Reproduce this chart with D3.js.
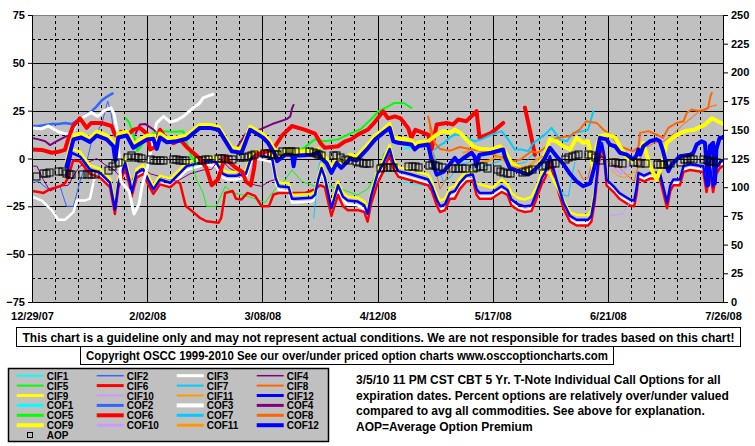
<!DOCTYPE html>
<html><head><meta charset="utf-8">
<script src="https://cdn.jsdelivr.net/npm/d3@7"></script>
<style>
body{margin:0;background:#fff;}
svg text{font-family:"Liberation Sans",Arial,sans-serif;font-weight:bold;font-size:11px;fill:#000;}
</style></head>
<body><svg id="c" width="755" height="446"></svg>
<script>
// ---------- data (day offset from 12/29/07, value) ----------
const xTickLabels = ["12/29/07","2/02/08","3/08/08","4/12/08","5/17/08","6/21/08","7/26/08"];
const leftTicks = [-75,-50,-25,0,25,50,75];
const rightTicks = [0,25,50,75,100,125,150,175,200,225,250];
const seriesNames = ["CIF1","CIF2","CIF3","CIF4","CIF5","CIF6","CIF7","CIF8","CIF9","CIF10","CIF11","CIF12",
                     "COF1","COF2","COF3","COF4","COF5","COF6","COF7","COF8","COF9","COF10","COF11","COF12"];
const seriesColors = ["#00FFFF","#3366FF","#FFFFFF","#800080","#00FF00","#FF0000","#00CCFF","#FF6600","#FFFF00","#CC99FF","#FF9900","#0000FF",
                      "#00FFFF","#3366FF","#FFFFFF","#800080","#00FF00","#FF0000","#00CCFF","#FF6600","#FFFF00","#CC99FF","#FF9900","#0000FF"];
const seriesWidths = [1,1,2.5,1,1,2.5,1,1,2.5,1,1,2.5, 2,2.5,3,2,2,4,2,2,4,2,2,4];
const legendWidths = [2,1.5,3,1.5,2,3,2,2,3,2,2,3, 3,3,4,3,3,4,3,3,4,3,3,4];

const CIF1 = [[112,-12],[115,-13],[118,-14],[121,-13.5],[122,-10]];
const CIF2 = [[0,-12.6],[2,-12],[5.5,-17],[7,-15],[8.5,-14.5],[10.5,-25],[12.6,-25],[14.6,-11.8],[16.6,-2],[18,8],[20,14],[21.5,20],[23,30],[24,24],[25,12]];
const CIF3 = [[0,-20],[3,-22],[6,-27],[8,-32],[10,-32],[12.6,-28],[13.6,-22],[16,-22],[17.6,-21],[19,-10],[20.7,-9.5],[23.7,-14.5],[25.2,-28.5],[26.3,-14.5],[28.3,-4],[29.8,-14.5],[30.3,-20],[31.8,-9.5],[33.8,-7.5],[35.3,-13],[36.9,-18],[38.9,-13],[42,-14.5],[45,-9.5],[47,-6],[51,-4],[53,-3],[56,-4],[58,-10],[59.5,-11],[62,-11],[65,-10],[66.5,-2],[68,0],[71,-1],[73,-2],[74,-12],[75,-16.5],[78,-17],[79,-23],[80,-23],[85,-22.5],[86,-21],[87,-13],[88,-7],[89,-12],[91,-28],[93,-16],[94.5,-22],[96,-24],[99,-24.5],[101,-26.5],[102,-31],[103,-22],[105,-10],[106.7,-5],[108.7,3],[109.8,-4],[111.3,-8.6],[115.3,-10.4],[120.4,-13],[121.5,-16.5],[123,-23.4],[124,-27],[125.5,-26],[127,-20],[128.5,-19],[130,-14.7],[132,-11],[134,-10.4],[135.1,-18],[136,-20],[139.6,-20],[142.7,-16.5],[144.5,-18.5],[145.7,-23.4],[147.8,-26],[149.8,-27],[151.8,-26.5],[153.3,-20],[155,-12],[156,-9],[157.4,-0.8],[159.4,-13],[161.5,-25],[163.5,-32],[165.5,-34],[169,-34],[170,-32],[171,-21.7],[172.2,-2],[173.2,6],[174,-1],[174.6,-13],[177,-17],[178.5,-20],[181.7,-23.4],[183,-24],[183.7,-18],[184.3,-9.5],[186,-11],[187.8,-9.5],[190.8,-9.5],[191.8,-16.5],[193,-25],[194,-16],[194.9,-13],[196.9,-13],[198,-6],[200,-5],[202,-5.5],[204,-6],[205,-16.5],[206,-6],[207,-16.5],[208,-7],[209,-4],[210,-3]];
const CIF4 = [[0,-4],[1.5,-4],[3.4,-11],[5.5,-17],[8.5,-14.5],[11,-14],[13,-8],[14.6,-4],[17,-2],[19.7,0],[22,-3],[25,-6],[27,-10],[30,-12],[33,-5],[36,-8],[40,-10],[44,-12],[48,-8],[52,-6],[54.6,-5.7],[57,0],[60,-5],[63,-8],[65.8,-12.7],[68,-14],[69.8,-14.5],[72,-12],[74,-11]];
const CIF5 = [[46,13],[47,8],[48,3],[49,-5],[50,-11],[52,-18],[53,-25],[56,-25],[58.7,-14.5],[61,-18],[64,-19],[67.8,-21],[70.8,-23],[73.9,-16],[77,-11],[79,-6],[82,-12],[86,-14.5],[90,-14.5],[94,-16],[97.2,-18],[99,-19],[102,-16],[104,-10],[106,-4],[107,3]];
const CIF6 = [[0,-17],[2,-17.5],[3.5,-18],[5.5,-16],[8.5,-14.5],[10,-13],[11,-10],[12.5,-1],[14.6,-1.5],[17.6,-8],[20.7,-10],[23.7,-15],[25.2,-29],[26.3,-15],[28.3,-5],[29.8,-15],[30.3,-20],[31.8,-10],[33.8,-8],[35.3,-13.5],[36.9,-18.5],[38.9,-13.5],[42,-15],[44,-12],[45,-13],[46.7,-24.8],[49,-28],[51,-31],[53,-32.8],[56.7,-33.6],[57.5,-31],[58.7,-18],[61,-17],[62,-21],[63.7,-21.4],[65.5,-18],[67.8,-19.5],[69.8,-25],[72,-25],[73.4,-18.8],[75,-18],[78,-18],[80,-18],[83,-18],[86,-16.2],[87.5,-14],[89,-15],[91,-30],[93,-19],[94.5,-25],[96,-27],[99,-27],[101,-28],[102,-33],[103,-24],[105,-13],[106.7,-7],[108.7,2],[109.8,-5],[111.3,-9.5],[115.3,-11.5],[120.4,-14],[121.5,-17],[123,-24.5],[124,-28],[125.5,-27],[127,-21],[128.5,-21],[130,-16],[132,-12],[134,-11.5],[135.1,-19],[136,-21],[139.6,-21],[142.7,-17.5],[144.5,-19],[145.7,-24.5],[147.8,-27],[149.8,-28],[151.8,-27.5],[153.3,-21],[155,-13],[156,-10],[157.4,-2],[159.4,-14],[161.5,-26],[163.5,-33],[165.5,-35],[169,-35],[170,-33],[171,-23],[172.2,-3],[173.2,5],[174,-2],[174.6,-14],[177,-18],[178.5,-21],[181.7,-24.5],[183,-25],[183.7,-19],[184.3,-10.5],[186,-12],[187.8,-10.5],[190.8,-10.5],[191.8,-17.5],[193,-26],[194,-17],[194.9,-14],[196.9,-14],[198,-7],[200,-6],[202,-6.5],[204,-7],[205,-17.5],[206,-7],[207,-17.5],[208,-8],[209,-5],[210,-4]];
const CIF7 = [[85.6,-31],[86.2,-22],[86.8,-12],[87.3,-3],[88,0],[89,-2],[89.5,null],[122,3],[123.5,-5],[125,-12],[127,-10],[130,-3],[133,-2],[135,-6],[138,-4],[141,-2],[144,0],[147,-3],[150,-2],[152,2],[155,-3],[157.4,-7.5],[159.5,-12],[161.5,-19],[163,-19.7],[164,-10],[165,-2]];
const CIF8 = [[120.6,21],[121.5,6],[123,-8],[124,-16],[125.5,-12],[127,-6],[129,-3],[130,null],[166,-6],[167.5,-11],[169,-10],[170,-3],[172,5],[175,-2],[178,-4],[181,-9],[183,-12],[184.5,-2],[186,5],[189,8],[192,9],[195,13],[198,18],[201,22],[203,25],[206,27],[208,28]];
const CIF9 = [[10.5,-7],[12,5],[14.6,3.5],[17.6,-3.5],[20.7,-5.5],[23.7,-10.5],[25.2,-24],[26.3,-10.5],[28.3,0],[29.8,-10],[30.3,-15.5],[31.8,-5.5],[33.8,-3.5],[35.3,-9],[36.9,-14],[38.9,-9],[42,-10.5],[45,-5.5],[47,-2],[51,0],[53,1],[56,0],[58,-6],[59.5,-7],[62,-7],[65,-6],[66.5,2],[68,4],[71,3],[73,2],[74,-8],[75,-12.5],[78,-13],[79,-19],[80,-19],[85,-18.5],[86,-17],[87,-9],[88,-3],[89,-8],[91,-24],[93,-12],[94.5,-18],[96,-20],[99,-20.5],[101,-22.5],[102,-27],[103,-18],[105,-6],[106.7,-1],[108.7,7],[109.8,0],[111.3,-4.5],[115.3,-6],[120.4,-8.5],[121.5,-12],[123,-19],[124,-22],[125.5,-21],[127,-15.5],[128.5,-14.5],[130,-10.5],[132,-7],[134,-6.5],[134.6,-12.7],[137,-14],[140,-15.3],[142.7,-11],[144.7,-14],[145.7,-18],[147.8,-20.6],[149.8,-21.4],[151.8,-20],[153.3,-15],[155,-7],[157.4,-7.5],[160.4,-18],[162.5,-25],[163.5,-28],[165.5,-29.5],[169,-29.5],[170,-27],[171,-17]];
const CIF10 = [[175.5,-30],[177,-29.5],[179.5,-29],[181,-25],[181.7,-23]];
const CIF11 = [[176,-6],[178,-9],[180,-10],[182,-8],[184,-6]];
const CIF12 = [[10.5,-9],[12,3],[14.6,1],[17.6,-5.7],[20.7,-7.5],[23.7,-12.6],[25.2,-26.7],[26.3,-12.6],[28.3,-2.3],[29.8,-12.6],[30.3,-17.9],[31.8,-7.5],[33.8,-5.7],[35.3,-11],[36.9,-16.2],[38.9,-11],[42,-12.7],[45,-7.5],[47,-4],[51,-2.3],[53,-1],[56,-2],[58,-8],[59.5,-9],[62,-9],[65,-8],[66.5,0],[68,2],[71,1],[73,0],[74,-10],[75,-14.5],[78,-15],[79,-21],[80,-21],[85,-20.5],[86,-19],[87,-11],[88,-5],[89,-10],[91,-26],[93,-14],[94.5,-20],[96,-22],[99,-22.5],[101,-24.5],[102,-29],[103,-20],[105,-8],[106.7,-3],[108.7,5],[109.8,-2],[111.3,-6.6],[115.3,-8.4],[120.4,-11],[121.5,-14.5],[123,-21.4],[124,-25],[125.5,-24],[127,-18],[128.5,-17],[130,-12.7],[132,-9],[134,-8.4],[135.1,-16],[136,-18],[139.6,-18],[142.7,-14.5],[144.5,-16.5],[145.7,-21.4],[147.8,-24],[149.8,-25],[151.8,-24.5],[153.3,-18],[155,-10],[156,-7],[157.4,1.2],[159.4,-11],[161.5,-23],[163.5,-30],[165.5,-32],[169,-32],[170,-30],[171,-19.7],[172.2,0],[173.2,8],[174,1],[174.6,-11],[177,-15],[178.5,-18],[181.7,-21.4],[183,-22],[183.7,-16],[184.3,-7.5],[186,-9],[187.8,-7.5],[190.8,-7.5],[191.8,-14.5],[193,-23],[194,-14],[194.9,-11],[196.9,-11],[198,-4],[200,-3],[202,-3.5],[204,-4],[205,-14.5],[206,-4],[207,-14.5],[208,-5],[209,-2],[210,-1]];

const COF1 = [[113,5],[115,6],[118,6.5],[120.5,6],[121.5,2]];
const COF2 = [[0,17],[2,17],[4,17.5],[6,18],[8,18],[10,18.5],[12,18],[13.5,19.5],[15,21],[16.5,23],[18,24.5],[19.5,27],[21,30],[22.5,32],[24.5,34]];
const COF3 = [[0,16],[3,15.6],[5,17],[8,14],[10,13],[12,12.5],[14,20],[16,22],[18,24],[20,22],[22,25],[24,26.5],[25,23],[25.8,15],[26.5,0],[27,-12],[28,-14],[29.5,-17],[31,-29],[32.5,-24],[33.5,-14],[35,-5],[36,3],[37.9,18.6],[40,22],[42,19],[44,20],[46,22],[49,26.5],[51,29],[52,31.7],[54,33],[55,33.5]];
const COF4 = [[0,10.7],[2,10],[4,9],[5.5,7],[7,8.5],[8.6,10],[10.5,11.7],[11.5,12],[12,null],[31.5,13],[32.8,17.8],[34.5,18],[37,15],[38,13],[39,null],[62,5],[63.5,9],[65,13],[69,15],[73,18],[77.4,20.6],[78.5,22],[79,26],[79.5,28]];
const COF5 = [[28.5,21],[29.5,19],[30.5,14],[31.3,10],[32,4],[33,6],[35,11.7],[37,13.4],[40,14.3],[43,14],[46,14.3],[47,8.2],[48.5,1.2],[50,-3],[51,null],[79,1],[81,4],[83,6],[86,10],[89,9],[93,10],[96,12.5],[100,15.5],[103,20.4],[105.3,24.7],[108,27],[110,29],[113,29],[115.3,26.5]];
const COF6 = [[0,4.7],[3,4.5],[6,3],[8,3.5],[10,4.5],[11,10],[12.5,17],[14.6,21],[16.6,16],[18,18.6],[21,18.6],[24.2,17],[25.2,12.5],[26.2,11],[27,14],[28.8,12],[30.8,15],[32.8,16],[34.9,13],[35.9,4.7],[37.5,6],[38.9,15],[40.9,10],[43,8],[45,10],[47,6],[49,3],[51,0],[53,-5],[54.6,-14],[56.5,-11],[58.7,1],[60,-2],[62,-5],[64,-7],[65,-12],[66.5,-14],[67.5,-5],[68,2],[70,3],[72,4],[73.9,6.4],[76,12],[79,17],[83,15],[86,13],[87.6,8.2],[89,5.6],[93,6.4],[95,8.8],[97,10],[99,12.5],[102,15],[104,18.6],[106.7,24.7],[108.2,21],[110.3,22],[112,21],[114.3,16],[115.3,10.8],[116.5,15],[120.4,12.5],[121.5,5],[123,17.8],[126,18.6],[128,17.8],[129.5,20.4],[132,19.5],[135.1,24.7],[136,10.8],[139.6,13.4],[143.2,18.6],[144,null],[149.8,26.6],[150.8,18.8],[151.9,10],[152.8,2]];
const COF7 = [[122.4,4.7],[124,7],[125.3,8.2],[127,11],[128.5,12.5],[131,12],[132.5,10.5],[134.6,9],[136.6,10],[139.6,12.5],[142.7,14.3],[144.7,10],[146.7,4.7],[148.8,4.7],[150.8,3.8],[152.3,8],[155.9,12.5],[157.9,16],[160.4,10],[162.5,9],[164.5,13.4],[167.5,14.3],[169,15],[170.6,24.7]];
const COF8 = [[120.4,22],[121.5,14],[122.4,8],[124,5],[127,4],[130,6],[133,5],[136,4],[139,3],[141.5,1],[143.7,0.3],[145.7,-1.5],[148.5,-0.5],[151.8,3.8],[153.8,3],[155.9,5.6],[158,10],[160.4,11],[163.5,11.7],[166.5,15.2],[168.5,19.5],[171.6,18.6],[173.6,15.2],[175.6,12.5],[177.7,8.2],[179.7,5.6],[182.7,3.8],[184.3,6],[184.8,13.4],[187.3,14.3],[190.4,12],[191.8,10.8],[193.4,16],[195.9,18.6],[198,19.5],[199,23.9],[200.5,25.6],[202,25],[204,25],[205.5,26.5],[206.2,32.6],[206.6,34.3]];
const COF9 = [[10.5,-2],[12.6,12],[15,13],[17.6,10.5],[19.7,14],[22.7,12],[24.7,8.5],[25.3,1],[26.2,13],[28.8,14],[30.8,7.5],[33,10],[35,12],[36.9,12],[37.9,7],[38.9,13],[41,10.5],[44,11],[47,12],[51,17.5],[54,17.5],[56.7,16.5],[58.2,12.5],[60.7,5.5],[63.7,5],[66.3,16.5],[68.3,14.5],[70.3,12.5],[71.8,10],[73.9,4],[74.5,0.5],[77,4],[79,4],[79.5,-2],[80,3.5],[85,4],[87,5],[88,2],[89.5,0],[91,-5.5],[92.6,0],[94,-3],[96.7,2],[98.7,1],[100,3.5],[102.2,7.5],[104.3,12],[106.7,15],[108.7,18],[109.8,11],[111.3,10.5],[115.3,9.5],[116.3,7],[117.5,8.5],[120.4,9],[123,12.5],[125,14.3],[127,13.5],[128.5,15],[130,13.5],[132,10],[134,6.4],[136,5],[139.6,4.7],[142.2,6.4],[143.7,4],[145.7,-2.3],[147.8,-4.5],[150.8,-6.6],[153.8,-3.5],[155.8,2],[157.4,10],[159.4,9],[161.5,6.4],[163.5,4.7],[165.5,10.8],[167.5,8.2],[169,9],[170,1],[170.6,-7.5],[171.5,6],[172.6,11.7],[174.6,12.5],[177.2,11],[178.7,6.4],[180.7,0.5],[182.7,-1.4],[184.3,2],[185.8,8.2],[187.8,-4],[189.8,-11],[191.3,-4],[192.9,8.2],[195.4,11.7],[198.5,14.3],[201.5,15.2],[204.6,17.8],[206.6,21],[208.6,19.3],[210,18]];
const COF10 = [[176,-3],[177.5,-6],[179,-8],[180.5,-5],[182,-3]];
const COF11 = [[131,3],[133,4],[134.5,0],[136,-2],[139,-1],[141.5,1],[143.5,-1],[145.5,-4],[148,-5],[151,-4],[153,-1],[155,1]];
const COF12 = [[10.5,-4],[12.6,10],[15,11],[17.6,8.7],[19.7,12],[22.7,10],[24.7,6.5],[25.3,-1],[26.2,11],[28.8,12],[30.8,5.6],[33,8],[35,10],[36.9,10.3],[37.9,5],[38.9,11],[41,8.5],[44,9],[47,10.3],[51,16],[54,16],[56.7,15],[58.2,10.8],[60.7,3.8],[63.7,3],[66.3,15],[68.3,13],[70.3,10.8],[71.8,8],[73.9,2],[74.5,-1.4],[77,2],[79,2],[79.5,-4],[80,1.5],[85,2],[87,3],[88,0],[89.5,-2.3],[91,-7.5],[92.6,-2.3],[94,-4.9],[96.7,0],[98.7,-1],[100,1.5],[102.2,5.6],[104.3,10],[106.7,13.4],[108.7,16],[109.8,9],[111.3,8.2],[115.3,7.3],[116.3,4.7],[117.5,6.5],[120.4,7.3],[121.4,-0.5],[123,-8.4],[125,-7],[127,-3],[128.5,0.3],[129.5,-2],[131,0],[133.6,3],[134.5,1],[135,-4],[136,2],[139.6,3],[143.2,4.7],[143.7,1],[145.2,-5],[147.8,-6.6],[150.8,-8.4],[152.3,-6.6],[154.8,-2.3],[155.8,0],[156.9,3.8],[157.4,5.6],[159.4,1.2],[161.5,-3],[163.5,-8],[165.5,-12],[167.5,-14.5],[169.6,-13],[171,-4],[172.6,10.8],[174.6,10],[175.6,7.3],[177.2,6.4],[178.7,3],[180.7,2],[182.7,-0.5],[183.7,1.5],[184.3,4.7],[184.8,2],[185.8,6.4],[187.8,9],[189.8,10],[190.8,9],[191.8,3.8],[192.9,-4],[193.4,-6.6],[194.4,-3],[195.4,-1.4],[196.9,1.2],[200,2],[201,3],[202,7.3],[203.5,9],[204.5,8.2],[205,-2.3],[205.5,-14],[206,6.4],[207,8.2],[207.5,-13],[208,5],[209,10.8],[210,10.8]];

const AOP = [[1.1,110],[3.4,112],[4.3,112.5],[5.2,113.3],[8,114],[9,114],[10.3,112],[11.2,111.5],[12,111.3],[15.3,111.5],[16.6,111.5],[17.8,111.5],[19.1,111.5],[23.2,115],[24.2,118.7],[25.2,121],[26,122],[29,126.6],[30,128],[31.2,126.6],[32.1,126],[33,125.2],[36,124.6],[36.8,124],[37.8,124],[38.8,124],[39.8,124],[42.8,124.6],[43.8,124.6],[44.8,123.7],[45.6,123.7],[46.4,123.7],[50.6,123.7],[51.6,123.7],[52.6,124.5],[53.6,124.8],[56.5,125.7],[57.5,125.7],[58.5,125.3],[59.6,125],[60.8,124.6],[63.3,126],[64.3,126.6],[65.5,127.4],[66.5,128],[67.5,129],[70.5,129.5],[71.5,129.5],[72.5,129],[73.5,129],[74.5,129],[76.1,131.5],[77.1,131.5],[78.1,131.7],[78.8,131.7],[79.8,131.7],[84.2,131.5],[85.4,130.5],[86.2,129.5],[86.9,128.6],[87.9,127.8],[91.5,127.8],[92.5,127.8],[93.5,126],[95,124.3],[96,124],[98.5,123],[99.5,121.8],[100.5,121],[101.5,121],[102.5,121],[105.8,116.4],[106.8,117.5],[107.8,118],[108.8,118],[109.8,118],[114.4,118.7],[115.4,118.7],[116.4,118.7],[117.4,118],[120.5,119.3],[121.5,119.8],[122.5,119.3],[123.5,118.7],[124.5,118],[127.6,117],[128.6,116.4],[129.6,116.4],[130.6,116.4],[131.6,116.4],[134,117],[135,118],[136,118.5],[137,118.7],[138.2,117],[141.2,115.9],[142.2,114.4],[143.2,113.5],[144.3,112.6],[145.3,112.6],[148.8,113.5],[149.8,114.4],[150.8,115],[151.9,115.9],[155,118.7],[156,119.3],[157,120.2],[158,120.8],[159,121.3],[162,124.3],[163,126],[164,127],[165,128],[166,129],[169,129],[170,127.8],[171,126.6],[172.6,123.7],[176.2,122.2],[177.2,121.6],[178.2,121.3],[179.2,120.8],[182.8,121.6],[183.8,121.6],[184.8,121.3],[186.3,120.8],[189.9,120.2],[190.9,120.2],[191.9,120.2],[192.9,120.2],[193.9,120.8],[197,122.2],[198,124.3],[199,124.6],[200,125.2],[201,124.6],[204,124.6],[205,123.7],[206,123.1],[207,122.8],[208,122.2]];

const disclaimer = "This chart is a guideline only and may not represent actual conditions. We are not responsible for trades based on this chart!";
const copyright = "Copyright OSCC 1999-2010 See our over/under priced option charts www.osccoptioncharts.com";
const noteLines = ["3/5/10 11 PM CST CBT 5 Yr. T-Note Individual Call Options for all",
                   "expiration dates. Percent options are relatively over/under valued",
                   "compared to avg all commodities. See above for explanation.",
                   "AOP=Average Option Premium"];

const seriesData = [CIF1,CIF2,CIF3,CIF4,CIF5,CIF6,CIF7,CIF8,CIF9,CIF10,CIF11,CIF12,
                    COF1,COF2,COF3,COF4,COF5,COF6,COF7,COF8,COF9,COF10,COF11,COF12];

// ---------- drawing ----------
const svg = d3.select("#c");
const base = new Date(2007,11,29);
const toDate = d => new Date(base.getTime() + d*86400000);
const L = 32, R = 723, T = 15, B = 302;
const x = d3.scaleTime().domain([base, new Date(2008,6,26)]).range([L,R]);
const yL = d3.scaleLinear().domain([-75,75]).range([B,T]);
const yR = d3.scaleLinear().domain([0,250]).range([B,T]);

svg.append("rect").attr("width",755).attr("height",446).attr("fill","#fff");
svg.append("rect").attr("x",L).attr("y",T).attr("width",R-L).attr("height",B-T).attr("fill","#C0C0C0");

// grid
const hVals = d3.range(-62.5, 75, 12.5);
svg.append("g").selectAll("line").data(hVals).join("line")
  .attr("x1",L).attr("x2",R).attr("y1",d=>Math.round(yL(d))+0.5).attr("y2",d=>Math.round(yL(d))+0.5)
  .attr("stroke","#000").attr("stroke-width",1)
  .attr("stroke-dasharray",d=> (Math.abs(d)%25===0)?null:"3,3");
const vDays = d3.range(7, 210, 7);
svg.append("g").selectAll("line").data(vDays).join("line")
  .attr("y1",T).attr("y2",B).attr("x1",d=>Math.round(x(toDate(d)))+0.5).attr("x2",d=>Math.round(x(toDate(d)))+0.5)
  .attr("stroke","#000").attr("stroke-width",1)
  .attr("stroke-dasharray",d=> (d%35===0)?null:"3,3");
svg.append("line").attr("x1",L).attr("x2",R).attr("y1",T+0.5).attr("y2",T+0.5).attr("stroke","#808080");

// series
svg.append("clipPath").attr("id","clip").append("rect").attr("x",L).attr("y",T).attr("width",R-L).attr("height",B-T);
const gS = svg.append("g").attr("clip-path","url(#clip)");
const line = d3.line().defined(d=>d[1]!==null).x(d=>x(toDate(d[0]))).y(d=>yL(d[1]));
seriesData.forEach((s,i)=>{
  gS.append("path").datum(s).attr("d",line).attr("fill","none")
    .attr("stroke",seriesColors[i]).attr("stroke-width",seriesWidths[i])
    .attr("stroke-linejoin","round").attr("stroke-linecap","round");
});
gS.append("g").selectAll("rect").data(AOP).join("rect")
  .attr("x",d=>Math.round(x(toDate(d[0])))-3.5+0.5).attr("y",d=>Math.round(yR(d[1]))-3.5+0.5)
  .attr("width",7).attr("height",7).attr("fill","none").attr("stroke","#000").attr("stroke-width",1);

// axes
const xAxis = d3.axisBottom(x).tickValues(xTickLabels.map((_,i)=>toDate(i*35)))
  .tickFormat((d,i)=>xTickLabels[i]).tickSize(0).tickPadding(10);
const gx = svg.append("g").attr("transform",`translate(0,${B})`).call(xAxis);
const gl = svg.append("g").attr("transform",`translate(${L},0)`).call(d3.axisLeft(yL).tickValues(leftTicks).tickSize(4).tickPadding(3));
const gr = svg.append("g").attr("transform",`translate(${R},0)`).call(d3.axisRight(yR).tickValues(rightTicks).tickSize(5).tickPadding(3));
[gx,gl,gr].forEach(g=>{g.selectAll("text").attr("fill","#000").style("font-size","11px").style("font-weight","bold").style("font-family","'Liberation Sans',Arial,sans-serif");
  g.selectAll("line").attr("stroke","#000"); g.select(".domain").attr("stroke","#000");});

// disclaimer boxes
svg.append("rect").attr("x",16.5).attr("y",327.5).attr("width",724).attr("height",19).attr("fill","#fff").attr("stroke","#000");
svg.append("text").attr("x",378.5).attr("y",341.5).attr("text-anchor","middle").style("font-size","12px")
  .attr("textLength",712).attr("lengthAdjust","spacingAndGlyphs").text(disclaimer);
svg.append("rect").attr("x",80.5).attr("y",346.5).attr("width",533).attr("height",18).attr("fill","#fff").attr("stroke","#000");
svg.append("text").attr("x",347).attr("y",360).attr("text-anchor","middle").style("font-size","12px")
  .attr("textLength",522).attr("lengthAdjust","spacingAndGlyphs").text(copyright);

// legend
svg.append("rect").attr("x",8.5).attr("y",368.5).attr("width",320).attr("height",73).attr("fill","#C0C0C0").attr("stroke","#000").attr("stroke-width",1.5);
const lg = svg.append("g");
seriesNames.forEach((n,i)=>{
  const row = Math.floor(i/4), col = i%4;
  const ly = 375.7 + row*9.9, lx = 16.7 + col*80;
  lg.append("line").attr("x1",lx).attr("x2",lx+27).attr("y1",ly).attr("y2",ly)
    .attr("stroke",seriesColors[i]).attr("stroke-width",legendWidths[i]);
  lg.append("text").attr("x",lx+30).attr("y",ly+4).style("font-size","10px").text(n);
});
lg.append("rect").attr("x",27.5).attr("y",432.5).attr("width",5).attr("height",5).attr("fill","none").attr("stroke","#000");
lg.append("text").attr("x",46.7).attr("y",439).style("font-size","10px").text("AOP");

// note
svg.append("g").selectAll("text").data(noteLines).join("text")
  .attr("x",356).attr("y",(d,i)=>384+i*15.5).style("font-size","12px").text(d=>d);
</script></body></html>
